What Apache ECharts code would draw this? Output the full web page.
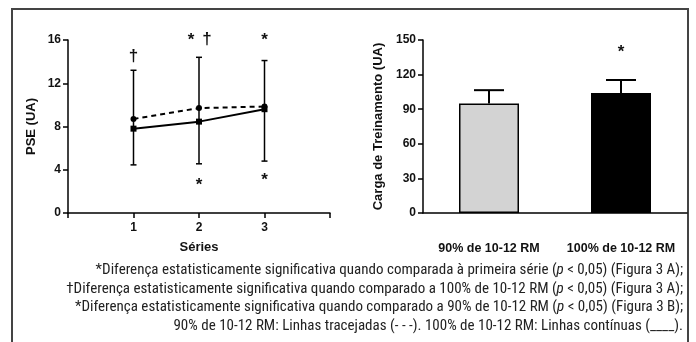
<!DOCTYPE html>
<html><head><meta charset="utf-8">
<script src="https://cdn.jsdelivr.net/npm/echarts@6/dist/echarts.min.js"></script>
<style>html,body{margin:0;padding:0;background:#fff}#c{width:696px;height:342px}</style>
</head><body><div id="c"></div>
<script>
// ---- Data (Figure A: PSE) ----
var seriesX = [1, 2, 3];
var xTickLabels = ['1', '2', '3'];
var pse100 = [7.8, 8.45, 9.6];     // 100% de 10-12 RM (solid)
var pse90 = [8.7, 9.7, 9.85];      // 90% de 10-12 RM (dashed)
var pseErrLow = [4.45, 4.55, 4.8];
var pseErrHigh = [13.2, 14.4, 14.1];
var yTicksA = [0, 4, 8, 12, 16];
var marksA = [[1, 14.5, '†'], [1.88, 16.0, '*'], [2.12, 16.1, '†'], [3, 16.0, '*'], [2, 2.6, '*'], [3, 3.0, '*']];
// ---- Data (Figure B: Carga de Treinamento) ----
var groups = ['90% de 10-12 RM', '100% de 10-12 RM'];
var carga = [95, 104];
var cargaErrHigh = [106.5, 115.3];
var yTicksB = [0, 30, 60, 90, 120, 150];
var marksB = [[1, 139, '*']];
// ---- Caption ----
var captionLines = [
  ['*Diferença estatisticamente significativa quando comparada à primeira série (', 'p', ' < 0,05) (Figura 3 A);'],
  ['†Diferença estatisticamente significativa quando comparado a 100% de 10-12 RM (', 'p', ' < 0,05) (Figura 3 A);'],
  ['*Diferença estatisticamente significativa quando comparado a 90% de 10-12 RM (', 'p', ' < 0,05) (Figura 3 B);'],
  ['90% de 10-12 RM: Linhas tracejadas (- - -). 100% de 10-12 RM: Linhas contínuas (____).']
];

var FONT = '"Liberation Sans", Arial, sans-serif';
var CAPFONT = '"Roboto Condensed", "Liberation Sans", sans-serif';
var chart = echarts.init(document.getElementById('c'));

var axisLineStyle = {color: '#000', width: 1.5};
var labelStyle = {color: '#111', fontFamily: FONT, fontWeight: 'bold', fontSize: 12};
var nameStyle = {color: '#111', fontFamily: FONT, fontWeight: 'bold', fontSize: 13};

function markSeries(xi, yi, data) {
  return {
    type: 'custom', xAxisIndex: xi, yAxisIndex: yi, z: 5, data: data,
    renderItem: function (params, api) {
      var p = api.coord([api.value(0), api.value(1)]);
      return {type: 'text', x: p[0], y: p[1], style: {
        text: data[params.dataIndex][2], fill: '#111', font: 'bold 17px ' + FONT,
        textAlign: 'center', textVerticalAlign: 'middle'
      }};
    }
  };
}

var captionGraphics = captionLines.map(function (parts, i) {
  var txt = parts.length === 3 ? parts[0] + '{i|' + parts[1] + '}' + parts[2] : parts[0];
  return {
    type: 'text', right: 13, top: 263 + i * 18.5,
    style: {
      text: txt, fill: '#222', font: '15px ' + CAPFONT, textAlign: 'right',
      rich: {i: {fontStyle: 'italic', fontFamily: CAPFONT, fontSize: 15, fill: '#222'}}
    }
  };
});

chart.setOption({
  animation: false,
  backgroundColor: '#fff',
  graphic: [{
    type: 'rect', shape: {x: 12, y: 9, width: 676, height: 345},
    style: {fill: 'none', stroke: '#444', lineWidth: 2}
  }].concat(captionGraphics),
  grid: [
    {left: 68, right: 366, top: 40, bottom: 129},
    {left: 423, right: 9, top: 40, bottom: 129}
  ],
  xAxis: [{
    gridIndex: 0, type: 'value', min: 0, max: 4, interval: 1,
    name: 'Séries', nameLocation: 'middle', nameGap: 28, nameTextStyle: nameStyle,
    axisLine: {lineStyle: axisLineStyle},
    axisTick: {inside: false, length: 5, lineStyle: axisLineStyle},
    splitLine: {show: false},
    axisLabel: Object.assign({margin: 9, formatter: function (v) {
      var k = seriesX.indexOf(v); return k >= 0 ? xTickLabels[k] : '';
    }}, labelStyle)
  }, {
    gridIndex: 1, type: 'category', data: groups,
    axisLine: {lineStyle: axisLineStyle},
    axisTick: {alignWithLabel: true, length: 5, lineStyle: axisLineStyle},
    axisLabel: Object.assign({margin: 29, interval: 0}, labelStyle, {fontSize: 12.5})
  }],
  yAxis: [{
    gridIndex: 0, type: 'value', min: yTicksA[0], max: yTicksA[yTicksA.length - 1], interval: yTicksA[1] - yTicksA[0],
    name: 'PSE (UA)', nameLocation: 'middle', nameGap: 30, nameRotate: 90, nameTextStyle: nameStyle,
    axisLine: {show: true, lineStyle: axisLineStyle},
    axisTick: {show: true, length: 5, lineStyle: axisLineStyle},
    splitLine: {show: false},
    axisLabel: Object.assign({margin: 7}, labelStyle)
  }, {
    gridIndex: 1, type: 'value', min: yTicksB[0], max: yTicksB[yTicksB.length - 1], interval: yTicksB[1] - yTicksB[0],
    name: 'Carga de Treinamento (UA)', nameLocation: 'middle', nameGap: 38, nameRotate: 90, nameTextStyle: nameStyle,
    axisLine: {show: true, lineStyle: axisLineStyle},
    axisTick: {show: true, length: 5, lineStyle: axisLineStyle},
    splitLine: {show: false},
    axisLabel: Object.assign({margin: 7}, labelStyle)
  }],
  series: [
    {
      type: 'custom', xAxisIndex: 0, yAxisIndex: 0, z: 1,
      data: seriesX.map(function (x, i) { return [x, pseErrLow[i], pseErrHigh[i]]; }),
      renderItem: function (params, api) {
        var lo = api.coord([api.value(0), api.value(1)]);
        var hi = api.coord([api.value(0), api.value(2)]);
        var w = 3, st = {stroke: '#000', lineWidth: 1.5};
        return {type: 'group', children: [
          {type: 'line', shape: {x1: lo[0], y1: lo[1], x2: hi[0], y2: hi[1]}, style: st},
          {type: 'line', shape: {x1: lo[0] - w, y1: lo[1], x2: lo[0] + w, y2: lo[1]}, style: st},
          {type: 'line', shape: {x1: hi[0] - w, y1: hi[1], x2: hi[0] + w, y2: hi[1]}, style: st}
        ]};
      }
    },
    {
      name: '90% de 10-12 RM', type: 'line', xAxisIndex: 0, yAxisIndex: 0, z: 3,
      data: seriesX.map(function (x, i) { return [x, pse90[i]]; }),
      symbol: 'circle', symbolSize: 6, itemStyle: {color: '#000'},
      lineStyle: {color: '#000', width: 2, type: [5, 4]}
    },
    {
      name: '100% de 10-12 RM', type: 'line', xAxisIndex: 0, yAxisIndex: 0, z: 4,
      data: seriesX.map(function (x, i) { return [x, pse100[i]]; }),
      symbol: 'rect', symbolSize: 6, itemStyle: {color: '#000'},
      lineStyle: {color: '#000', width: 2}
    },
    markSeries(0, 0, marksA),
    {
      type: 'bar', xAxisIndex: 1, yAxisIndex: 1, barWidth: 60, z: 2,
      data: carga.map(function (v, i) {
        return {value: v, itemStyle: {color: i === 0 ? '#d3d3d3' : '#000', borderColor: '#000', borderWidth: 1.5}};
      })
    },
    {
      type: 'custom', xAxisIndex: 1, yAxisIndex: 1, z: 1,
      data: carga.map(function (v, i) { return [i, v, cargaErrHigh[i]]; }),
      renderItem: function (params, api) {
        var lo = api.coord([api.value(0), api.value(1)]);
        var hi = api.coord([api.value(0), api.value(2)]);
        var w = 15, st = {stroke: '#000', lineWidth: 2};
        return {type: 'group', children: [
          {type: 'line', shape: {x1: lo[0], y1: lo[1], x2: hi[0], y2: hi[1]}, style: st},
          {type: 'line', shape: {x1: hi[0] - w, y1: hi[1], x2: hi[0] + w, y2: hi[1]}, style: st}
        ]};
      }
    },
    markSeries(1, 1, marksB)
  ]
});
</script></body></html>
